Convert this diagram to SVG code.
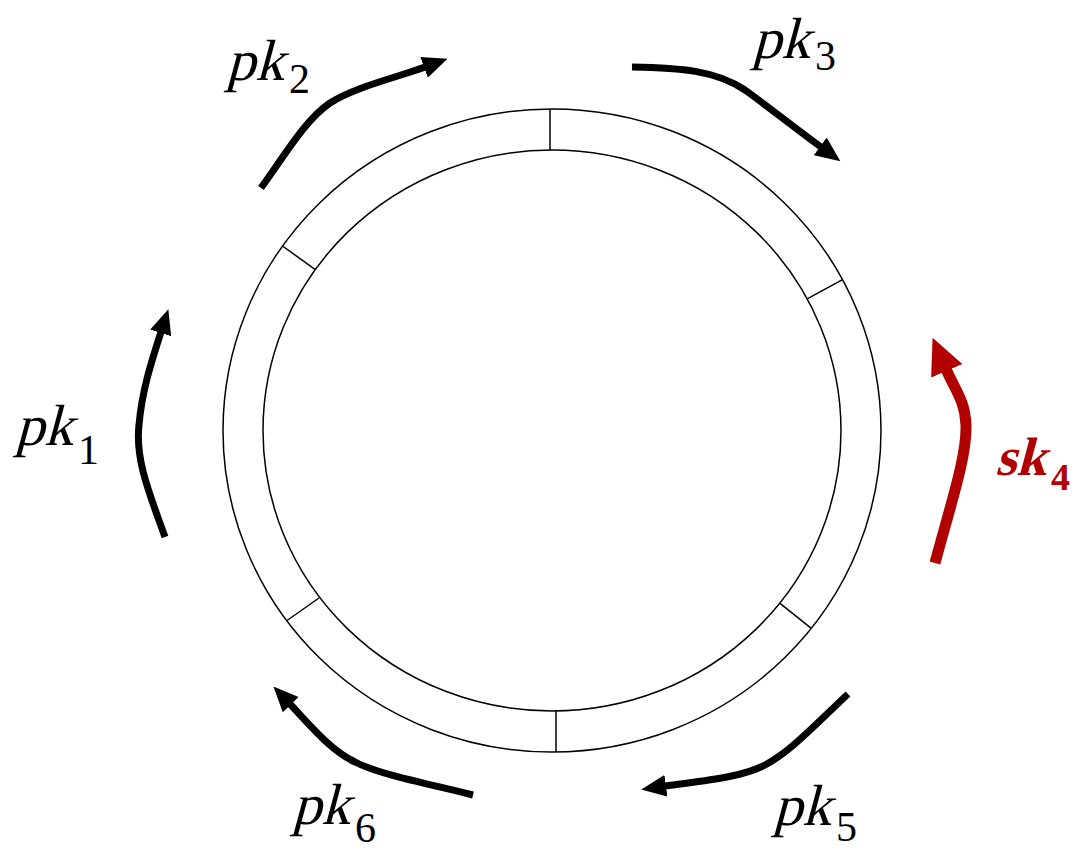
<svg xmlns="http://www.w3.org/2000/svg" width="1078" height="848" viewBox="0 0 1078 848">
<style>
.ring{fill:none;stroke:#000;stroke-width:1.5}
.tick{stroke:#000;stroke-width:1.5}
.arr{fill:none;stroke:#000;stroke-width:7}
.red{fill:none;stroke:#b00000;stroke-width:11}
</style>
<defs>
<marker id="ah" markerUnits="userSpaceOnUse" markerWidth="25" markerHeight="22" viewBox="0 0 25 22" refX="1" refY="11" orient="auto"><path d="M0,0 L25,11 L0,22 z" fill="#000"/></marker>
<marker id="ahr" markerUnits="userSpaceOnUse" markerWidth="36" markerHeight="34" viewBox="0 0 36 34" refX="2" refY="17" orient="auto"><path d="M0,0 L36,17 L0,34 z" fill="#b00000"/></marker>
</defs>
<g id="ring">
<ellipse class="ring" cx="552" cy="430.5" rx="329" ry="321.5"/>
<ellipse class="ring" cx="552" cy="430.5" rx="289" ry="280.5"/>
<line class="tick" x1="550" y1="109" x2="550" y2="150"/>
<line class="tick" x1="556" y1="711" x2="556" y2="752"/>
<line class="tick" x1="282.5" y1="246" x2="315.3" y2="269.6"/>
<line class="tick" x1="842.5" y1="279.6" x2="807.2" y2="298.8"/>
<line class="tick" x1="811.3" y1="628.4" x2="779.7" y2="603.2"/>
<line class="tick" x1="287" y1="620.5" x2="319" y2="598"/>
</g>
<g id="connectors">
<path class="arr" marker-end="url(#ah)" d="M165,537 C150,495 135,460 139,425 C142,390 152,360 161,332"/>
<path class="arr" marker-end="url(#ah)" d="M261,188 C285,155 305,120 330,103 C355,87 395,78 425,67"/>
<path class="arr" marker-end="url(#ah)" d="M632,67 C680,68 715,70 745,90 C770,108 795,128 821,147"/>
<path class="red" marker-end="url(#ahr)" d="M935,563 C952,500 967,455 966,425 C965,400 955,390 946,369"/>
<path class="arr" marker-end="url(#ah)" d="M848,694 C815,725 790,752 765,765 C740,778 700,781 665,786"/>
<path class="arr" marker-end="url(#ah)" d="M473,795 C430,784 380,775 355,762 C330,750 310,725 290,704"/>
</g>
<g id="pk1" transform="translate(15,445)"><g transform="skewX(-15)"><text font-family="Liberation Serif" font-style="normal" font-size="58" fill="#000">pk</text></g><text font-family="Liberation Serif" font-style="normal" font-size="42" fill="#000" x="63" y="19">1</text></g>
<g id="pk2" transform="translate(226,80)"><g transform="skewX(-15)"><text font-family="Liberation Serif" font-style="normal" font-size="58" fill="#000">pk</text></g><text font-family="Liberation Serif" font-style="normal" font-size="42" fill="#000" x="63" y="13">2</text></g>
<g id="pk3" transform="translate(752,58)"><g transform="skewX(-15)"><text font-family="Liberation Serif" font-style="normal" font-size="58" fill="#000">pk</text></g><text font-family="Liberation Serif" font-style="normal" font-size="42" fill="#000" x="63" y="12">3</text></g>
<g id="sk4" transform="translate(995,475)"><g transform="skewX(-15)"><text font-family="Liberation Serif" font-style="normal" font-weight="bold" font-size="54" fill="#b00000">sk</text></g><text font-family="Liberation Serif" font-style="normal" font-weight="bold" font-size="38" fill="#b00000" x="56" y="15">4</text></g>
<g id="pk5" transform="translate(773,825)"><g transform="skewX(-15)"><text font-family="Liberation Serif" font-style="normal" font-size="58" fill="#000">pk</text></g><text font-family="Liberation Serif" font-style="normal" font-size="42" fill="#000" x="63" y="16">5</text></g>
<g id="pk6" transform="translate(292,824)"><g transform="skewX(-15)"><text font-family="Liberation Serif" font-style="normal" font-size="58" fill="#000">pk</text></g><text font-family="Liberation Serif" font-style="normal" font-size="42" fill="#000" x="63" y="18">6</text></g>
</svg>
